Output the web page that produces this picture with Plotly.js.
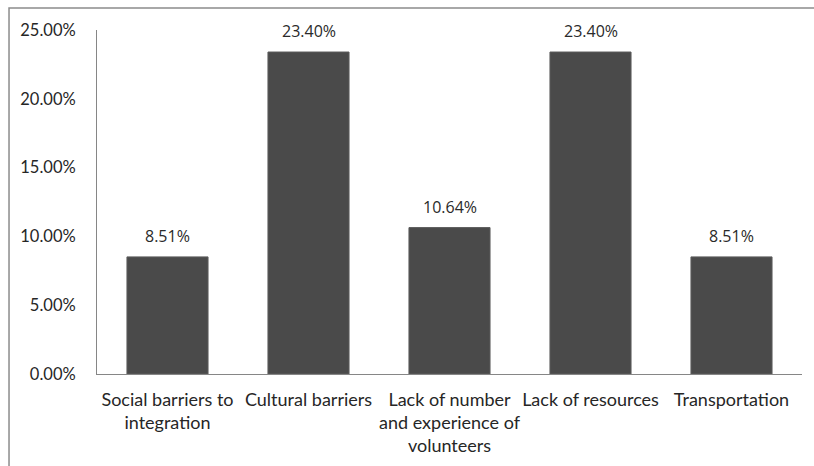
<!DOCTYPE html>
<html>
<head>
<meta charset="utf-8">
<script src="https://cdn.plot.ly/plotly-3.0.1.min.js"></script>
<style>
  html, body { margin: 0; padding: 0; background: #ffffff; }
  #chart { width: 814px; height: 466px; }
</style>
</head>
<body>
<div id="chart"></div>
<script>
// Reported barriers, share of responses (%)
const categories = [
  "Social barriers to<br>integration",
  "Cultural barriers",
  "Lack of number<br>and experience of<br>volunteers",
  "Lack of resources",
  "Transportation"
];
const shares = [8.51, 23.40, 10.64, 23.40, 8.51];
const yTicks = [0, 5, 10, 15, 20, 25];
const yTickLabels = ["0.00%", "5.00%", "10.00%", "15.00%", "20.00%", "25.00%"];

const bars = {
  type: "bar",
  x: categories,
  y: shares,
  marker: { color: "#4a4a4a", line: { color: "#5c5c5c", width: 1 } },
  hoverinfo: "skip"
};

// value labels sitting above each bar
const valueLabels = categories.map((c, i) => ({
  x: c,
  y: shares[i],
  xref: "x",
  yref: "y",
  text: shares[i].toFixed(2) + "%",
  showarrow: false,
  yanchor: "bottom",
  yshift: 8,
  font: { family: "Open Sans, sans-serif", size: 16, color: "#2a2a2a" }
}));

const layout = {
  width: 814,
  height: 466,
  margin: { l: 97, r: 12, t: 30, b: 92 },
  paper_bgcolor: "#ffffff",
  plot_bgcolor: "#ffffff",
  showlegend: false,
  bargap: 0.425,
  font: { family: "Lato, sans-serif", size: 16.5, color: "#262626" },
  xaxis: {
    type: "category",
    showline: true,
    linecolor: "#868686",
    linewidth: 1,
    ticks: "",
    showgrid: false,
    zeroline: false,
    tickangle: 0,
    ticklabelstandoff: 9,
    tickfont: { family: "Lato, sans-serif", size: 18, color: "#262626" }
  },
  yaxis: {
    range: [0, 25],
    tickvals: yTicks,
    ticktext: yTickLabels,
    showline: true,
    linecolor: "#868686",
    linewidth: 1,
    ticks: "",
    showgrid: false,
    zeroline: false,
    ticklabelstandoff: 17,
    tickfont: { family: "Lato, sans-serif", size: 16.5, color: "#262626" }
  },
  annotations: valueLabels,
  shapes: [{
    type: "rect",
    xref: "paper",
    yref: "paper",
    x0: -0.1248, x1: 1.2,
    y0: -0.6, y1: 1.064,
    line: { color: "#8c8c8c", width: 1.5 },
    fillcolor: "rgba(0,0,0,0)",
    layer: "below"
  }]
};

Plotly.newPlot("chart", [bars], layout, { displayModeBar: false, staticPlot: true });
</script>
</body>
</html>
